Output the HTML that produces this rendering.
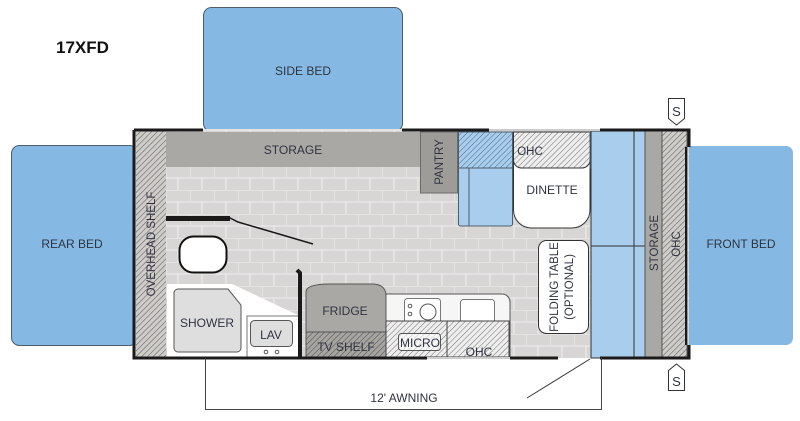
<!DOCTYPE html>
<html><head><meta charset="utf-8"><style>
html,body{margin:0;padding:0;background:#fff;}
svg{display:block;}
text{font-family:"Liberation Sans",sans-serif;fill:#2f3440;}
</style></head><body>
<svg width="800" height="421" viewBox="0 0 800 421" xmlns="http://www.w3.org/2000/svg">
<defs>
<pattern id="h" width="4" height="4" patternUnits="userSpaceOnUse" patternTransform="rotate(45)">
<rect width="4" height="4" fill="#cfcdca"/><line x1="0" y1="0" x2="0" y2="4" stroke="#6f6d6b" stroke-width="1.3"/></pattern>
<pattern id="hd" width="4" height="4" patternUnits="userSpaceOnUse" patternTransform="rotate(45)">
<rect width="4" height="4" fill="#a7a5a2"/><line x1="0" y1="0" x2="0" y2="4" stroke="#5e5c5a" stroke-width="1.3"/></pattern>
<pattern id="hw" width="4" height="4" patternUnits="userSpaceOnUse" patternTransform="rotate(45)">
<rect width="4" height="4" fill="#eeeeee"/><line x1="0" y1="0" x2="0" y2="4" stroke="#7a7876" stroke-width="1.1"/></pattern>
<pattern id="hb" width="4" height="4" patternUnits="userSpaceOnUse" patternTransform="rotate(45)">
<rect width="4" height="4" fill="#a9cdec"/><line x1="0" y1="0" x2="0" y2="4" stroke="#4d6f90" stroke-width="1.1"/></pattern>
<pattern id="tile" width="24" height="24" patternUnits="userSpaceOnUse" x="166" y="166">
<rect width="24" height="24" fill="#d8d6d4"/><path d="M0 0H24M0 12H24M0 0V12M12 12V24" stroke="#e8e7e6" stroke-width="1.5" fill="none"/></pattern>
</defs>

<text x="56" y="53" font-size="17" font-weight="bold" style="fill:#111">17XFD</text>

<rect x="203.5" y="7.5" width="199" height="124" rx="8" fill="#85b9e3" stroke="#4d5d6c" stroke-width="1"/>
<text x="303" y="75" font-size="12" text-anchor="middle">SIDE BED</text>
<rect x="11.5" y="145.5" width="126" height="200" rx="8" fill="#85b9e3" stroke="#4d5d6c" stroke-width="1"/>
<text x="72" y="248" font-size="12" text-anchor="middle">REAR BED</text>
<path d="M686 146H786a7 7 0 0 1 7 7V338a7 7 0 0 1 -7 7H686Z" fill="#85b9e3"/>
<text x="741" y="248" font-size="12" text-anchor="middle">FRONT BED</text>

<rect x="134" y="129" width="555" height="229" fill="url(#tile)"/>
<rect x="136" y="131" width="30" height="226" fill="url(#h)"/>
<text transform="translate(155,244) rotate(-90)" font-size="11.5" text-anchor="middle">OVERHEAD SHELF</text>
<rect x="166" y="132" width="255" height="35" fill="#aaa8a5"/>
<text x="293" y="154" font-size="12" text-anchor="middle">STORAGE</text>
<rect x="420.5" y="132" width="37" height="61" fill="#9e9c99" stroke="#6e6c6a"/>
<text transform="translate(443,162) rotate(-90)" font-size="11.5" text-anchor="middle">PANTRY</text>

<rect x="458.5" y="132" width="54" height="94" rx="2" fill="#a9cdec" stroke="#4d5d6c"/>
<line x1="469" y1="132" x2="469" y2="226" stroke="#4d5d6c"/>
<rect x="458.5" y="132" width="54" height="36" fill="url(#hb)" stroke="#4d5d6c"/>
<path d="M513.5 132V210a18 18 0 0 0 18 18H572a18 18 0 0 0 18-18V132Z" fill="#fff" stroke="#333"/>
<path d="M513.5 132V160a8 8 0 0 0 8 8H582a8 8 0 0 0 8-8V132Z" fill="url(#hw)" stroke="#333"/>
<rect x="590" y="132" width="10" height="36" fill="url(#hb)" stroke="#4d5d6c"/>
<text x="530" y="155" font-size="11.5" text-anchor="middle">OHC</text>
<text x="552" y="194" font-size="12" text-anchor="middle">DINETTE</text>
<rect x="591" y="131" width="54" height="227" fill="#a9cdec" stroke="#333"/>
<line x1="591" y1="246" x2="645" y2="246" stroke="#333"/>
<line x1="634" y1="131" x2="634" y2="358" stroke="#333"/>
<rect x="645" y="131" width="17" height="227" fill="#aaa8a5" stroke="#555"/>
<text transform="translate(658,243) rotate(-90)" font-size="11.5" text-anchor="middle">STORAGE</text>
<rect x="662" y="131" width="25" height="227" fill="url(#h)" stroke="#555"/>
<text transform="translate(680,244) rotate(-90)" font-size="11.5" text-anchor="middle">OHC</text>
<rect x="538.5" y="240.5" width="50" height="93" rx="8" fill="#fff" stroke="#333"/>
<text transform="translate(558,287) rotate(-90)" font-size="11.5" text-anchor="middle">FOLDING TABLE</text>
<text transform="translate(573,287) rotate(-90)" font-size="11.5" text-anchor="middle">(OPTIONAL)</text>

<path d="M166 218H230L238 222L313 244" stroke="#1a1a1a" stroke-width="1.5" fill="none"/>
<rect x="166" y="216" width="64" height="5" fill="#1a1a1a"/>
<rect x="179.5" y="236.5" width="47" height="36" rx="14" fill="#fff" stroke="#111" stroke-width="2"/>
<path d="M167 284H232L300 316V357H167Z" fill="#fff"/>
<path d="M174 293a4 4 0 0 1 4-4H228L241 305V348a4 4 0 0 1-4 4H178a4 4 0 0 1-4-4Z" fill="#dedede" stroke="#555"/>
<text x="207" y="327" font-size="12" text-anchor="middle">SHOWER</text>
<rect x="247" y="316" width="53" height="41" fill="#fff" stroke="#777"/>
<rect x="250.5" y="320.5" width="42" height="26" rx="4" fill="#dedede" stroke="#555"/>
<text x="271" y="339" font-size="12" text-anchor="middle">LAV</text>
<circle cx="266" cy="352" r="1.8" fill="none" stroke="#555"/><circle cx="277" cy="352" r="1.8" fill="none" stroke="#555"/>
<path d="M297 270L300 273V358" stroke="#1a1a1a" stroke-width="4" fill="none"/>

<path d="M306 357V292Q306 284 330 284H372Q386 284 386 296V357Z" fill="#aaa8a5" stroke="#555"/>
<text x="345" y="315" font-size="12" text-anchor="middle">FRIDGE</text>
<rect x="306" y="332" width="80" height="25" fill="url(#hd)" stroke="#555"/>
<text x="346" y="351" font-size="12" text-anchor="middle">TV SHELF</text>
<path d="M386 294H502a8 8 0 0 1 8 8V357H386Z" fill="#f6f6f6" stroke="#555"/>
<rect x="404.5" y="298.5" width="36" height="30" rx="3" fill="#fff" stroke="#777"/>
<circle cx="428" cy="312" r="8" fill="none" stroke="#555"/><circle cx="410" cy="306" r="1.8" fill="none" stroke="#555"/><circle cx="410" cy="314" r="1.8" fill="none" stroke="#555"/>
<rect x="460.5" y="299.5" width="34" height="41" rx="3" fill="#fff" stroke="#777"/>
<rect x="386" y="321" width="61" height="36" fill="url(#hw)" stroke="#444"/>
<rect x="447" y="321" width="62" height="36" fill="url(#hw)" stroke="#444"/>
<rect x="398.5" y="333.5" width="42" height="17" rx="3" fill="#fff" fill-opacity="0.6" stroke="#555"/>
<text x="420" y="347" font-size="12" text-anchor="middle">MICRO</text>
<text x="479" y="356" font-size="12" text-anchor="middle">OHC</text>

<path d="M134 130H203M402 130H489M600 130H689V147M689 345V358H600M558 358H510M427 358H134V130" stroke="#1a1a1a" stroke-width="3" fill="none"/>
<path d="M489 130H600M510 358H427" stroke="#ccc" stroke-width="2" fill="none"/>
<line x1="686" y1="147" x2="686" y2="345" stroke="#1a1a1a" stroke-width="2"/>

<path d="M205.5 358V409.5H601.5V358" stroke="#444" fill="none"/>
<line x1="590" y1="359" x2="527" y2="398" stroke="#333"/>
<text x="404" y="402" font-size="12" text-anchor="middle">12' AWNING</text>

<path d="M668.5 98.5H684.5V118.5L676.5 125L668.5 118.5Z" fill="#fff" stroke="#333"/>
<text x="676.5" y="116" font-size="13" text-anchor="middle">S</text>
<path d="M668.5 390.5H684.5V370.5L676.5 364L668.5 370.5Z" fill="#fff" stroke="#333"/>
<text x="676.5" y="386" font-size="13" text-anchor="middle">S</text>
</svg>
</body></html>
